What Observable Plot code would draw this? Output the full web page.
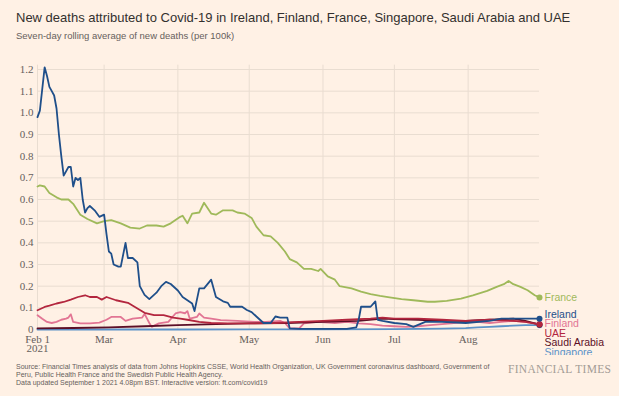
<!DOCTYPE html>
<html><head><meta charset="utf-8">
<script src="https://cdn.jsdelivr.net/npm/d3@7"></script>
<script src="https://cdn.jsdelivr.net/npm/@observablehq/plot@0.6"></script>
<style>
html,body{margin:0;padding:0;background:#fff1e5;width:619px;height:396px;overflow:hidden;font-family:"Liberation Sans",Arial,sans-serif;}
#wrap{position:relative;width:619px;height:396px;}
#title{position:absolute;left:16px;top:10px;font-size:13px;line-height:15px;color:#33302e;white-space:nowrap;}
#subtitle{position:absolute;left:16px;top:30px;font-size:9.5px;line-height:11px;color:#66605c;white-space:nowrap;}
#chart{position:absolute;left:0;top:48px;}
#chart svg text{font-family:"Liberation Serif","Times New Roman",serif;}
#chart svg text.series-label{font-family:"Liberation Sans",Arial,sans-serif;}
#caption{position:absolute;left:16px;top:363px;font-size:7px;line-height:8px;color:#66605c;white-space:nowrap;}
#brand{position:absolute;left:508px;top:363px;font-family:"Liberation Serif",serif;font-size:11.5px;color:#a39c95;letter-spacing:0.3px;white-space:nowrap;}
</style>
</head><body>
<div id="wrap">
<div id="title">New deaths attributed to Covid-19 in Ireland, Finland, France, Singapore, Saudi Arabia and UAE</div>
<div id="subtitle">Seven-day rolling average of new deaths (per 100k)</div>
<div id="chart"></div>
<div id="caption">Source: Financial Times analysis of data from Johns Hopkins CSSE, World Health Organization, UK Government coronavirus dashboard, Government of<br>Peru, Public Health France and the Swedish Public Health Agency.<br>Data updated September 1 2021 4.08pm BST. Interactive version: ft.com/covid19</div>
<div id="brand">FINANCIAL TIMES</div>
</div>
<script>
// ---- Data (days since 1 Feb 2021, seven-day average deaths per 100k) ----
const countries = ["France", "Singapore", "Finland", "Saudi Arabia", "UAE", "Ireland"];
const countryColors = ["#9fb95a", "#5b92c8", "#e27594", "#5c0f27", "#b3263e", "#1f4f8a"];

const franceDays = [0,1,3,5,8,10,13,15,18,21,25,28,31,35,39,43,46,50,53,56,60,61,63,65,68,70,73,75,78,82,84,87,90,92,95,98,101,104,106,109,112,115,118,119,122,125,127,132,136,140,144,148,153,158,164,167,172,178,183,189,193,196,198,200,203,206,209,211];
const franceValues = [0.66,0.665,0.66,0.63,0.61,0.60,0.60,0.58,0.53,0.51,0.49,0.50,0.505,0.49,0.47,0.466,0.48,0.48,0.475,0.49,0.52,0.525,0.49,0.535,0.54,0.585,0.535,0.53,0.55,0.55,0.54,0.535,0.515,0.475,0.435,0.43,0.40,0.36,0.325,0.31,0.28,0.28,0.27,0.28,0.245,0.23,0.20,0.19,0.175,0.163,0.155,0.148,0.14,0.135,0.128,0.128,0.132,0.143,0.158,0.178,0.197,0.209,0.224,0.209,0.197,0.181,0.158,0.148];

const irelandDays = [0,1,3,4,5,6,7,8,9,10,11,12,13,14,15,16,17,18,19,20,21,22,24,26,28,29,30,31,32,34,35,37,38,40,42,43,45,47,50,52,54,56,59,61,63,65,66,68,70,73,75,78,80,81,86,88,90,92,95,98,100,102,105,106,110,120,130,134,135,136,140,142,143,145,150,155,158,163,170,180,190,195,200,205,211];
const irelandValues = [0.98,1.01,1.21,1.17,1.12,1.10,1.08,1.02,0.90,0.80,0.71,0.73,0.75,0.75,0.66,0.70,0.69,0.70,0.60,0.54,0.56,0.57,0.55,0.52,0.53,0.44,0.36,0.35,0.30,0.29,0.29,0.40,0.33,0.33,0.31,0.20,0.16,0.14,0.17,0.20,0.22,0.21,0.18,0.15,0.135,0.12,0.085,0.19,0.19,0.23,0.15,0.13,0.123,0.105,0.105,0.09,0.08,0.06,0.03,0.03,0.06,0.055,0.055,0.005,0.003,0.003,0.003,0.01,0.045,0.105,0.105,0.13,0.045,0.04,0.03,0.025,0.012,0.035,0.035,0.03,0.04,0.05,0.05,0.05,0.05];

const finlandDays = [0,2,4,6,8,10,12,13,14,15,18,22,26,29,31,35,37,40,44,45,47,48,51,55,58,60,62,63,64,67,68,70,73,77,84,91,96,102,104,106,110,112,118,125,130,135,140,145,150,155,160,165,170,175,180,185,190,195,200,205,211];
const finlandValues = [0.066,0.05,0.035,0.03,0.035,0.045,0.05,0.055,0.07,0.035,0.028,0.028,0.032,0.045,0.058,0.058,0.04,0.05,0.055,0.072,0.03,0.012,0.028,0.035,0.074,0.08,0.075,0.085,0.05,0.058,0.074,0.055,0.05,0.043,0.04,0.035,0.035,0.04,0.03,0.005,0.005,0.028,0.035,0.03,0.035,0.028,0.025,0.018,0.015,0.012,0.015,0.02,0.025,0.03,0.035,0.035,0.03,0.035,0.04,0.035,0.025];

const uaeDays = [0,3,5,8,11,14,17,20,22,25,27,29,33,38,42,45,49,53,57,60,63,68,73,80,90,100,110,120,130,140,145,150,160,170,180,190,200,205,211];
const uaeValues = [0.089,0.104,0.11,0.12,0.127,0.138,0.15,0.158,0.15,0.15,0.138,0.15,0.135,0.123,0.097,0.077,0.066,0.066,0.055,0.05,0.045,0.035,0.03,0.028,0.028,0.03,0.035,0.04,0.045,0.05,0.055,0.05,0.05,0.045,0.04,0.045,0.04,0.035,0.024];

const saudiDays = [0,15,30,45,59,75,89,105,120,135,145,150,160,170,180,190,200,205,211];
const saudiValues = [0.005,0.007,0.01,0.015,0.02,0.025,0.028,0.03,0.035,0.04,0.05,0.048,0.045,0.04,0.04,0.045,0.05,0.04,0.022];

const singaporeDays = [0,30,60,90,120,150,160,170,180,185,190,195,200,205,211];
const singaporeValues = [0,0,0,0.001,0.001,0.002,0.003,0.004,0.006,0.01,0.012,0.015,0.018,0.02,0.02];

const yTicks = [0,0.1,0.2,0.3,0.4,0.5,0.6,0.7,0.8,0.9,1.0,1.1,1.2];
const yTickLabels = ["0","0.1","0.2","0.3","0.4","0.5","0.6","0.7","0.8","0.9","1.0","1.1","1.2"];
const monthTicks = ["2021-02-01","2021-03-01","2021-04-01","2021-05-01","2021-06-01","2021-07-01","2021-08-01"];
const monthLabels = ["Feb 1\n2021","Mar","Apr","May","Jun","Jul","Aug"];

// ---- Build table ----
const start = new Date(Date.UTC(2021, 1, 1));
const dayToDate = d => d3.utcDay.offset(start, d);
const seriesDays = {"France": franceDays, "Ireland": irelandDays, "Finland": finlandDays, "UAE": uaeDays, "Saudi Arabia": saudiDays, "Singapore": singaporeDays};
const seriesValues = {"France": franceValues, "Ireland": irelandValues, "Finland": finlandValues, "UAE": uaeValues, "Saudi Arabia": saudiValues, "Singapore": singaporeValues};
const rows = [];
for (const c of countries) seriesDays[c].forEach((d, i) => rows.push({country: c, date: dayToDate(d), value: seriesValues[c][i]}));
const last = countries.map(c => { const ds = seriesDays[c], vs = seriesValues[c]; return {country: c, date: dayToDate(ds[ds.length - 1]), value: vs[vs.length - 1]}; });

const W = 619, H = 307, mT = 21, mB = 26, mL = 37, mR = 80;
const pxPerUnit = (H - mT - mB) / 1.2;
const gap = 9.4 / pxPerUnit;

// Label layout: anchor the (upper) median label at its own value, stack the others away from it.
const labels = last.slice().sort((a, b) => b.value - a.value);
const anchor = Math.floor((labels.length - 1) / 2);
labels[anchor].labelY = labels[anchor].value;
for (let i = anchor + 1; i < labels.length; i++) labels[i].labelY = Math.min(labels[i].value, labels[i - 1].labelY - gap);
for (let i = anchor - 1; i >= 0; i--) labels[i].labelY = Math.max(labels[i].value, labels[i + 1].labelY + gap);

const colorScale = {domain: countries, range: countryColors};
const monthDates = monthTicks.map(s => new Date(s + "T00:00:00Z"));

const chart = Plot.plot({
  width: W, height: H,
  marginTop: mT, marginBottom: mB, marginLeft: mL, marginRight: mR,
  style: "background: transparent; overflow: hidden;",
  x: {type: "utc", domain: [start, dayToDate(211)], axis: null},
  y: {domain: [0, 1.2], axis: null},
  color: colorScale,
  marks: [
    Plot.ruleY(yTicks, {stroke: "#e9ddd1", strokeWidth: 1}),
    Plot.ruleX(monthDates, {y1: 0, y2: 1.22, stroke: "#e9ddd1", strokeWidth: 1}),
    Plot.text(yTicks, {y: d => d, frameAnchor: "left", text: (d, i) => yTickLabels[i], textAnchor: "end", dx: -4, fill: "#66605c", fontSize: 11}),
    Plot.text(monthDates, {x: d => d, frameAnchor: "bottom", text: (d, i) => monthLabels[i], lineAnchor: "top", dy: 7, lineHeight: 0.8, fill: "#66605c", fontSize: 11}),
    Plot.line(rows, {x: "date", y: "value", z: "country", stroke: "country", strokeWidth: 1.8, strokeLinejoin: "round", curve: "linear"}),
    Plot.dot(last, {x: "date", y: "value", fill: "country", r: 3}),
    Plot.text(labels, {x: "date", y: "labelY", text: "country", fill: "country", textAnchor: "start", dx: 5, fontSize: 10.5})
  ]
});
// series labels use the sans face; tick labels keep the serif face from the stylesheet
const countrySet = new Set(countries);
chart.querySelectorAll("text").forEach(t => { if (countrySet.has(t.textContent)) t.classList.add("series-label"); });
document.getElementById("chart").appendChild(chart);
</script>
</body></html>
